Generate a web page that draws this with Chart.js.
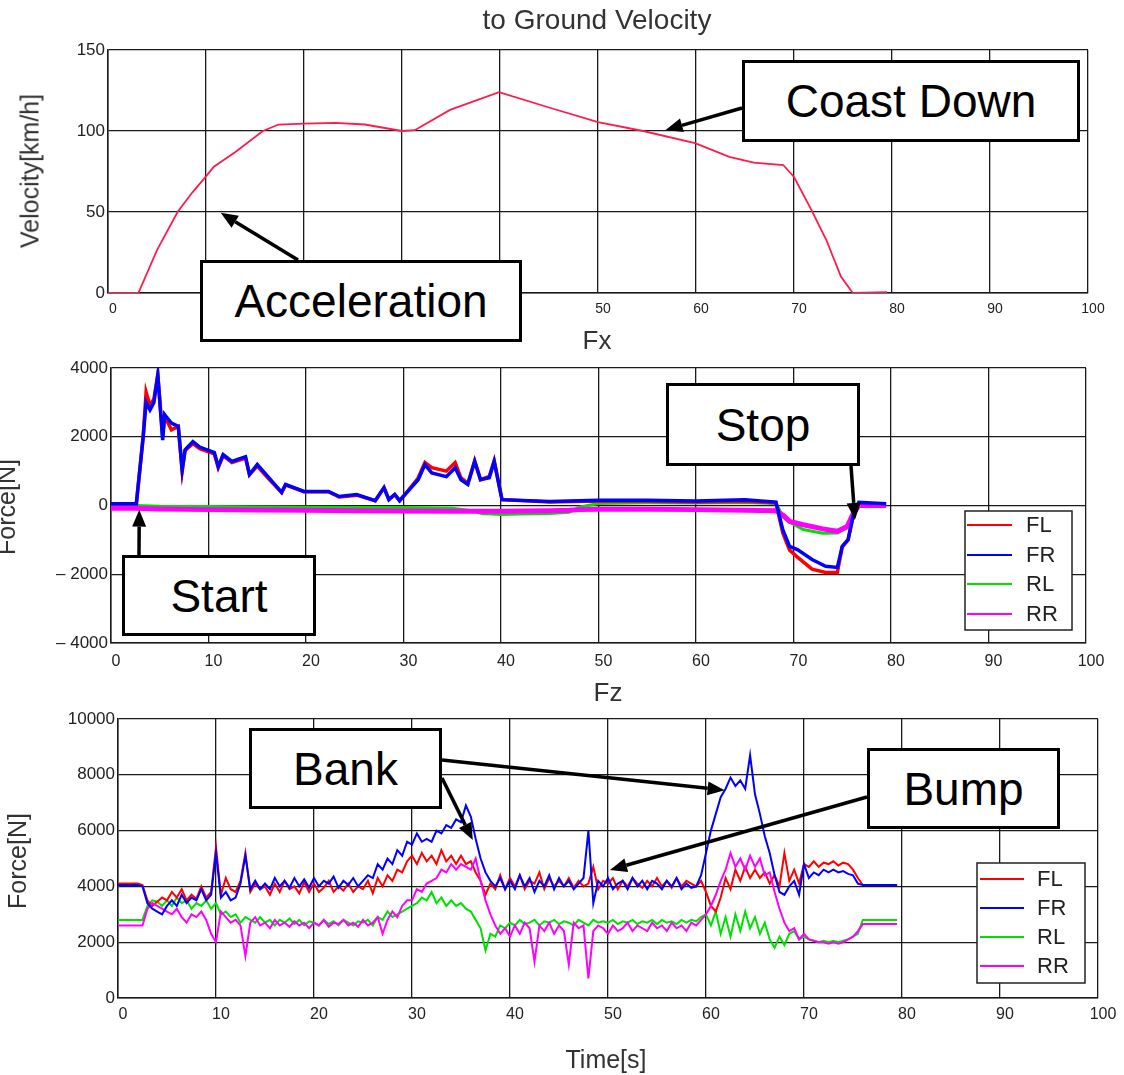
<!DOCTYPE html>
<html><head><meta charset="utf-8">
<script src="https://cdn.jsdelivr.net/npm/chart.js@4/dist/chart.umd.min.js"></script>
<style>
html,body{margin:0;padding:0;background:#fff;width:1124px;height:1075px;overflow:hidden;position:relative;font-family:'Liberation Sans',Arial,sans-serif;}
canvas{position:absolute;left:0;}
.txt{position:absolute;color:#333;white-space:nowrap;transform:translate(-50%,-50%);line-height:1;}
.rot{transform:translate(-50%,-50%) rotate(-90deg);}
.box{position:absolute;box-sizing:border-box;border:3px solid #000;background:#fff;display:flex;align-items:center;justify-content:center;font-size:46px;color:#000;z-index:5;line-height:1;}
</style></head><body>
<canvas id="c1" width="1124" height="330" style="top:0px"></canvas>
<canvas id="c2" width="1124" height="350" style="top:330px"></canvas>
<canvas id="c3" width="1124" height="395" style="top:680px"></canvas>

<div class="txt" style="left:597px;top:20px;font-size:28px;color:#333">to Ground Velocity</div>
<div class="txt rot" style="left:30px;top:171px;font-size:25px">Velocity[km/h]</div>
<div class="txt" style="left:597px;top:340px;font-size:26px">Fx</div>
<div class="txt rot" style="left:6px;top:507px;font-size:25px">Force[N]</div>
<div class="txt" style="left:608px;top:692px;font-size:26px">Fz</div>
<div class="txt rot" style="left:17px;top:861px;font-size:25px">Force[N]</div>
<div class="txt" style="left:606px;top:1059px;font-size:25px">Time[s]</div>

<div class="box" style="left:200px;top:260px;width:322px;height:82px">Acceleration</div>
<div class="box" style="left:742px;top:60px;width:338px;height:82px">Coast Down</div>
<div class="box" style="left:122px;top:555px;width:194px;height:81px">Start</div>
<div class="box" style="left:666px;top:383px;width:194px;height:83px">Stop</div>
<div class="box" style="left:249px;top:728px;width:193px;height:81px">Bank</div>
<div class="box" style="left:867px;top:748px;width:193px;height:81px">Bump</div>

<script>
const TIME_TICKS = [0,10,20,30,40,50,60,70,80,90,100];
const VEL_TICKS = [0,50,100,150];
const FX_TICKS = [-4000,-2000,0,2000,4000];
const FZ_TICKS = [0,2000,4000,6000,8000,10000];
const WHEELS = ['FL','FR','RL','RR'];
const WHEEL_COLORS = ['#ff0000','#0000ff','#00e000','#ff00ff'];

// Velocity to ground
const VEL_T = [0,3.1,5.0,7.1,8.6,10,10.8,13,15.8,17.4,20,23.2,26.2,30,31.3,34.9,39.9,45,50,54.6,59.9,63.4,65.9,68.9,70,71.8,73.3,74.8,76,79.5];
const VEL_V = [0,0,26.5,50,62,72,78,87,100,104,104.5,105,104,100,100.5,113,124,114.5,105.5,100,92.5,84,80.5,79,71.6,51,32.7,10,0,0.5];

// Fx front wheels
const FX_T_FRONT = [0,2.6,3.3,3.6,4.0,4.4,4.8,5.3,5.5,6.2,6.9,7.3,7.6,8.4,9.1,10.6,11.0,11.5,12.4,13.8,14.2,15.0,16.1,17.5,17.9,19.8,22.3,23.4,25.2,27.1,28.0,28.5,29.1,29.6,30.6,31.5,32.2,32.9,34.4,35.3,35.9,36.6,37.3,37.9,38.8,39.3,40.1,45,50,55,60,65,68.2,68.9,69.6,70.4,71.9,73.3,74.5,75.0,75.6,76.1,76.7,79.5];
const FX_FL = [50,50,2000,3300,2900,3100,3800,2000,2600,2200,2300,1000,1600,1800,1650,1500,1100,1450,1250,1380,900,1150,800,380,600,400,400,250,300,140,520,170,320,140,480,800,1250,1100,1000,1250,800,650,1300,750,850,1300,170,100,130,120,100,120,80,-800,-1300,-1500,-1850,-1950,-1950,-1200,-1000,-330,60,30];
const FX_FR = [50,50,2000,3000,2780,3000,3800,1900,2640,2400,2300,1040,1620,1860,1700,1540,1130,1480,1280,1420,900,1190,840,380,610,410,410,260,320,140,520,170,320,140,460,750,1190,950,840,1100,750,610,1280,750,810,1280,170,120,150,150,130,170,100,-700,-1190,-1280,-1570,-1770,-1800,-1190,-990,-320,90,50];
// Fx rear wheels
const FX_T_REAR = [0,2.6,5,10,15,20,25,30,35,37,38,40,42,45,47,48,50,55,60,65,68.2,69,69.6,71,73,74.5,75.5,76.1,76.7,79.5];
const FX_RL = [0,0,-20,-30,-40,-50,-60,-60,-80,-150,-230,-260,-250,-230,-200,-50,60,80,70,90,60,-350,-490,-700,-810,-800,-650,-300,0,0];
const FX_RR = [-80,-80,-100,-120,-130,-140,-150,-160,-170,-170,-170,-170,-160,-150,-140,-120,-110,-110,-120,-140,-150,-300,-460,-560,-680,-750,-610,-250,0,0];

// Fz, sampled every 0.5 s
const FZ_T = [0,0.5,1,1.5,2,2.5,3,3.5,4,4.5,5,5.5,6,6.5,7,7.5,8,8.5,9,9.5,10,10.5,11,11.5,12,12.5,13,13.5,14,14.5,15,15.5,16,16.5,17,17.5,18,18.5,19,19.5,20,20.5,21,21.5,22,22.5,23,23.5,24,24.5,25,25.5,26,26.5,27,27.5,28,28.5,29,29.5,30,30.5,31,31.5,32,32.5,33,33.5,34,34.5,35,35.5,36,36.5,37,37.5,38,38.5,39,39.5,40,40.5,41,41.5,42,42.5,43,43.5,44,44.5,45,45.5,46,46.5,47,47.5,48,48.5,49,49.5,50,50.5,51,51.5,52,52.5,53,53.5,54,54.5,55,55.5,56,56.5,57,57.5,58,58.5,59,59.5,60,60.5,61,61.5,62,62.5,63,63.5,64,64.5,65,65.5,66,66.5,67,67.5,68,68.5,69,69.5,70,70.5,71,71.5,72,72.5,73,73.5,74,74.5,75,75.5,76,76.5,77,77.5,78,78.5,79,79.5];
const FZ_FL = [4100,4100,4100,4100,4100,4050,3500,3300,3450,3600,
3500,3800,3600,3900,3500,3700,3550,4000,3600,3800,
5400,3700,4300,3900,3800,4200,5200,3800,4100,3900,
4000,3700,4100,3800,4200,3900,4000,3750,4150,3800,
4100,3800,3950,4200,3800,4000,3850,4100,3800,4000,
3900,4200,3750,4300,4000,4400,4200,4600,4500,4900,
5100,4800,5200,4900,5100,4800,5300,4900,5100,4800,
5100,4800,4900,4500,4200,3700,4100,3900,4400,3900,
4300,4000,4400,3900,4200,4100,4500,3900,4300,4000,
4200,4000,4300,3950,4200,4000,4100,4700,3900,4200,
4100,4300,3900,4200,4000,4300,4100,3950,4200,4000,
4300,4000,4200,3950,4300,4000,4200,4100,4000,4200,
3800,3300,3100,3600,4300,3900,4600,4200,4700,4300,
4600,4300,4500,4100,4400,4000,5200,4200,4600,4100,
4800,4700,4900,4700,4850,4800,4900,4750,4850,4800,
4600,4300,4050,4050,4050,4050,4050,4050,4050,4050];
const FZ_FR = [4050,4050,4050,4050,4050,4000,3400,3200,3100,3000,
3300,3500,3300,3700,3400,3600,3500,3900,3500,3700,
5200,3600,3800,3500,3600,4100,5100,3900,4200,3900,
4100,3900,4300,4000,4200,3950,4300,4000,4250,3950,
4300,4000,4200,4100,4350,3950,4200,4050,4300,4000,
4200,4400,4300,4800,4600,5000,4800,5300,5100,5600,
5500,5900,5600,5700,5600,6000,5900,6200,6100,6400,
6300,6900,6500,5700,5000,4500,4200,4000,4300,3900,
4200,3900,4400,4000,4300,3800,4200,4000,4400,3900,
4300,4000,4200,3900,4100,4300,6000,3400,4200,4000,
4300,3900,4100,4200,3900,4300,4000,4200,3900,4200,
4100,3900,4200,4000,4300,3900,4100,3950,4000,4400,
5200,6000,6600,7200,7500,7900,7600,7800,7500,8700,
7300,6600,5800,5200,4400,3800,3700,4000,4200,3700,
4800,4300,4500,4400,4600,4500,4600,4500,4550,4450,
4400,4100,4050,4050,4050,4050,4050,4050,4050,4050];
const FZ_RL = [2800,2800,2800,2800,2800,2800,3300,3500,3450,3300,
3500,3300,3600,3400,3500,3200,3400,3300,3500,3200,
3400,3000,3100,2900,3000,2700,2900,2800,2700,2900,
2700,2800,2600,2800,2700,2850,2650,2800,2600,2750,
2700,2600,2800,2650,2750,2600,2800,2700,2600,2750,
2700,2800,2600,2900,2800,3100,2900,3000,3100,3200,
3300,3400,3600,3500,3800,3400,3600,3300,3500,3300,
3400,3200,3100,2800,2500,1700,2300,2200,2600,2500,
2700,2600,2800,2650,2700,2800,2600,2750,2700,2800,
2650,2750,2700,2600,2800,2700,2600,2800,2700,2750,
2700,2800,2650,2750,2700,2800,2650,2750,2700,2800,
2650,2800,2700,2750,2650,2800,2700,2800,2750,2900,
3000,2600,3100,2300,2900,2200,3000,2400,3100,2500,
2900,2300,2700,2100,1800,2200,1900,2300,2400,2100,
2200,2100,2050,2000,2050,2000,2050,2000,2050,2100,
2200,2300,2800,2800,2800,2800,2800,2800,2800,2800];
const FZ_RR = [2600,2600,2600,2600,2600,2600,3200,3400,3300,3200,
3100,3000,3200,2900,2700,3000,2900,3100,2800,2300,
2000,3100,2900,2700,2800,2600,1500,2700,2900,2600,
2700,2500,2800,2600,2700,2550,2750,2600,2700,2500,
2700,2600,2800,2550,2700,2650,2800,2600,2700,2550,
2800,2600,2700,2900,2300,2800,3100,2900,3300,3500,
3500,3900,3800,4100,4200,4300,4600,4500,4800,4600,
4800,4700,4600,5000,4200,3500,3000,2600,2300,2500,
2200,2600,2300,2700,2500,1300,2600,2400,2700,2300,
2600,2400,1200,2700,2500,2600,700,2400,2600,2500,
2300,2600,2400,2500,2700,2400,2600,2500,2400,2700,
2500,2600,2400,2700,2500,2600,2400,2700,2600,2800,
3000,3300,3700,4200,4600,5200,4700,5000,4600,5100,
4700,5000,4400,4500,3800,3200,2700,2400,2500,2100,
2300,2100,2050,2000,2000,1950,2000,1950,2000,2100,
2200,2400,2650,2650,2650,2650,2650,2650,2650,2650];

const FONT = "'Liberation Sans', Arial, sans-serif";
const pairs = (xs, ys) => xs.map((x, i) => ({x: x, y: ys[i]}));

const arrowPlugin = {
  id: 'arrows',
  afterDatasetsDraw(chart, args, opts) {
    const items = opts.items || [];
    const ctx = chart.ctx, xs = chart.scales.x, ys = chart.scales.y;
    ctx.save();
    items.forEach(a => {
      const x1 = a.from[0], y1 = a.from[1] - opts.offsetTop;
      const x2 = xs.getPixelForValue(a.to[0]), y2 = ys.getPixelForValue(a.to[1]);
      const ang = Math.atan2(y2 - y1, x2 - x1);
      const hl = 17, hw = 7;
      const bx = x2 - hl * Math.cos(ang), by = y2 - hl * Math.sin(ang);
      ctx.strokeStyle = '#000'; ctx.fillStyle = '#000'; ctx.lineWidth = 3.5;
      ctx.beginPath(); ctx.moveTo(x1, y1); ctx.lineTo(bx, by); ctx.stroke();
      ctx.beginPath();
      ctx.moveTo(x2, y2);
      ctx.lineTo(bx + hw * Math.sin(ang), by - hw * Math.cos(ang));
      ctx.lineTo(bx - hw * Math.sin(ang), by + hw * Math.cos(ang));
      ctx.closePath(); ctx.fill();
    });
    ctx.restore();
  }
};

const legendPlugin = {
  id: 'wheelLegend',
  afterDraw(chart, args, opts) {
    if (!opts.box) return;
    const ctx = chart.ctx;
    const [l, t, r, b] = opts.box;
    ctx.save();
    ctx.fillStyle = '#fff'; ctx.fillRect(l, t, r - l, b - t);
    ctx.strokeStyle = '#222'; ctx.lineWidth = 1.5; ctx.strokeRect(l, t, r - l, b - t);
    chart.data.datasets.forEach((ds, i) => {
      const y = opts.rows[i];
      ctx.strokeStyle = ds.borderColor; ctx.lineWidth = 2;
      ctx.beginPath(); ctx.moveTo(opts.lineX[0], y); ctx.lineTo(opts.lineX[1], y); ctx.stroke();
      ctx.fillStyle = '#222'; ctx.font = '22px ' + FONT; ctx.textBaseline = 'middle'; ctx.textAlign = 'left';
      ctx.fillText(ds.label, opts.textX, y + 1);
    });
    ctx.restore();
  }
};

function wheelSets(t1, t2, arrs, widths) {
  const ord = [2, 0, 3, 1];
  return WHEELS.map((w, i) => ({
    label: w,
    data: pairs(i < 2 ? t1 : t2, arrs[i]),
    borderColor: WHEEL_COLORS[i],
    borderWidth: widths[i],
    pointRadius: 0,
    fill: false,
    order: ord[i]
  }));
}

function buildChart(id, o) {
  const gridStyle = {color: '#1a1a1a', lineWidth: 1.3, drawTicks: false};
  const borderStyle = {color: '#1a1a1a', width: 1.5};
  return new Chart(document.getElementById(id), {
    type: 'line',
    data: {datasets: o.datasets},
    options: {
      responsive: false, animation: false, devicePixelRatio: 1,
      layout: {padding: {left: 0, top: o.padTop, right: o.padRight, bottom: 0}},
      elements: {line: {tension: 0}},
      scales: {
        x: {
          type: 'linear', min: 0, max: 100,
          afterBuildTicks: s => { s.ticks = TIME_TICKS.map(v => ({value: v})); },
          afterFit: s => { s.height = o.xAxisHeight; },
          grid: gridStyle, border: borderStyle,
          ticks: {padding: o.xLabelPad, labelOffset: 5, color: '#222', maxRotation: 0, autoSkip: false,
                  font: {family: FONT, size: o.xFont || 16}, callback: v => String(v)}
        },
        y: {
          type: 'linear', min: o.yMin, max: o.yMax,
          afterBuildTicks: s => { s.ticks = o.yTicks.map(v => ({value: v})); },
          afterFit: s => { s.width = o.yAxisWidth; },
          grid: gridStyle, border: borderStyle,
          ticks: {padding: 3, color: '#222', font: {family: FONT, size: 17},
                  callback: v => v < 0 ? '\u2013 ' + Math.abs(v) : String(v)}
        }
      },
      plugins: {
        legend: {display: false}, tooltip: {enabled: false}, title: {display: false},
        arrows: {items: o.arrows || [], offsetTop: o.offsetTop},
        wheelLegend: o.legend || {}
      }
    },
    plugins: [arrowPlugin, legendPlugin]
  });
}

// Panel 1: velocity
buildChart('c1', {
  datasets: [{
    label: 'Velocity', data: pairs(VEL_T, VEL_V), borderColor: '#ff1a4d', borderWidth: 1.8,
    pointRadius: 0, fill: false
  }],
  yMin: 0, yMax: 150, yTicks: VEL_TICKS,
  yAxisWidth: 108, xAxisHeight: 37, padTop: 50, padRight: 36, xLabelPad: 8, xFont: 14, offsetTop: 0,
  arrows: [
    {from: [298, 260], to: [11.5, 49.5]},
    {from: [742, 108], to: [56.9, 100.6]}
  ]
});

// Panel 2: Fx
buildChart('c2', {
  datasets: wheelSets(FX_T_FRONT, FX_T_REAR, [FX_FL, FX_FR, FX_RL, FX_RR], [3.5, 3.5, 3, 5]),
  yMin: -4000, yMax: 4000, yTicks: FX_TICKS,
  yAxisWidth: 111, xAxisHeight: 37, padTop: 38, padRight: 38, xLabelPad: 9, offsetTop: 330,
  arrows: [
    {from: [139, 555], to: [2.9, -120]},
    {from: [851, 466], to: [76.3, -420]}
  ],
  legend: {box: [965, 181, 1072, 300], rows: [195, 225, 254, 284], lineX: [967, 1012], textX: 1026}
});

// Panel 3: Fz
buildChart('c3', {
  datasets: wheelSets(FZ_T, FZ_T, [FZ_FL, FZ_FR, FZ_RL, FZ_RR], [2, 2, 2, 2]),
  yMin: 0, yMax: 10000, yTicks: FZ_TICKS,
  yAxisWidth: 118, xAxisHeight: 77, padTop: 39, padRight: 26, xLabelPad: 7, offsetTop: 680,
  arrows: [
    {from: [442, 760], to: [61.9, 7450]},
    {from: [442, 778], to: [36.2, 5660]},
    {from: [867, 797], to: [50.2, 4590]}
  ],
  legend: {box: [977, 183, 1085, 303], rows: [199, 228, 257, 286], lineX: [980, 1024], textX: 1037}
});
</script>
</body></html>
